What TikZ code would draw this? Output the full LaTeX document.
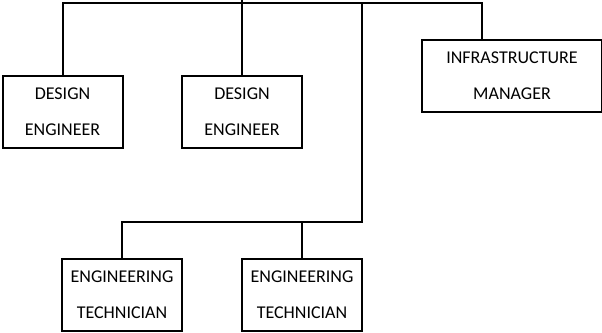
\documentclass[tikz,border=0pt]{standalone}
\usepackage{fontspec}
\setmainfont{Carlito}
\begin{document}
\begin{tikzpicture}[x=0.75pt,y=-0.75pt,line width=1.5pt,
  role/.style={draw,minimum width=90pt,minimum height=54pt,inner sep=0pt,
    align=center,font=\fontsize{13.5}{27}\selectfont}]
        \useasboundingbox (0,0) rectangle (602,332);
        %uffici
        \node[role] (designA) at (62.5,112) {DESIGN\\ENGINEER};
        \node[role] (designB) at (242,112) {DESIGN\\ENGINEER};
        \node[role,minimum width=135pt] (infra) at (512,76)
          {INFRASTRUCTURE\\MANAGER};
        \node[role] (techA) at (122,295) {ENGINEERING\\TECHNICIAN};
        \node[role] (techB) at (302,295) {ENGINEERING\\TECHNICIAN};
        %linee
        \coordinate (up) at (242,0);
        \coordinate (busR) at (482,3);
        \coordinate (drop) at (362,3);
        \coordinate (split) at (362,222);
        \draw (designA.north) |- (busR) -- (busR |- infra.north);
        \draw (up) -- (designB.north);
        \draw (drop) -- (split) -| (techA.north);
        \draw (split -| techB.north) -- (techB.north);
    \end{tikzpicture}
\end{document}
